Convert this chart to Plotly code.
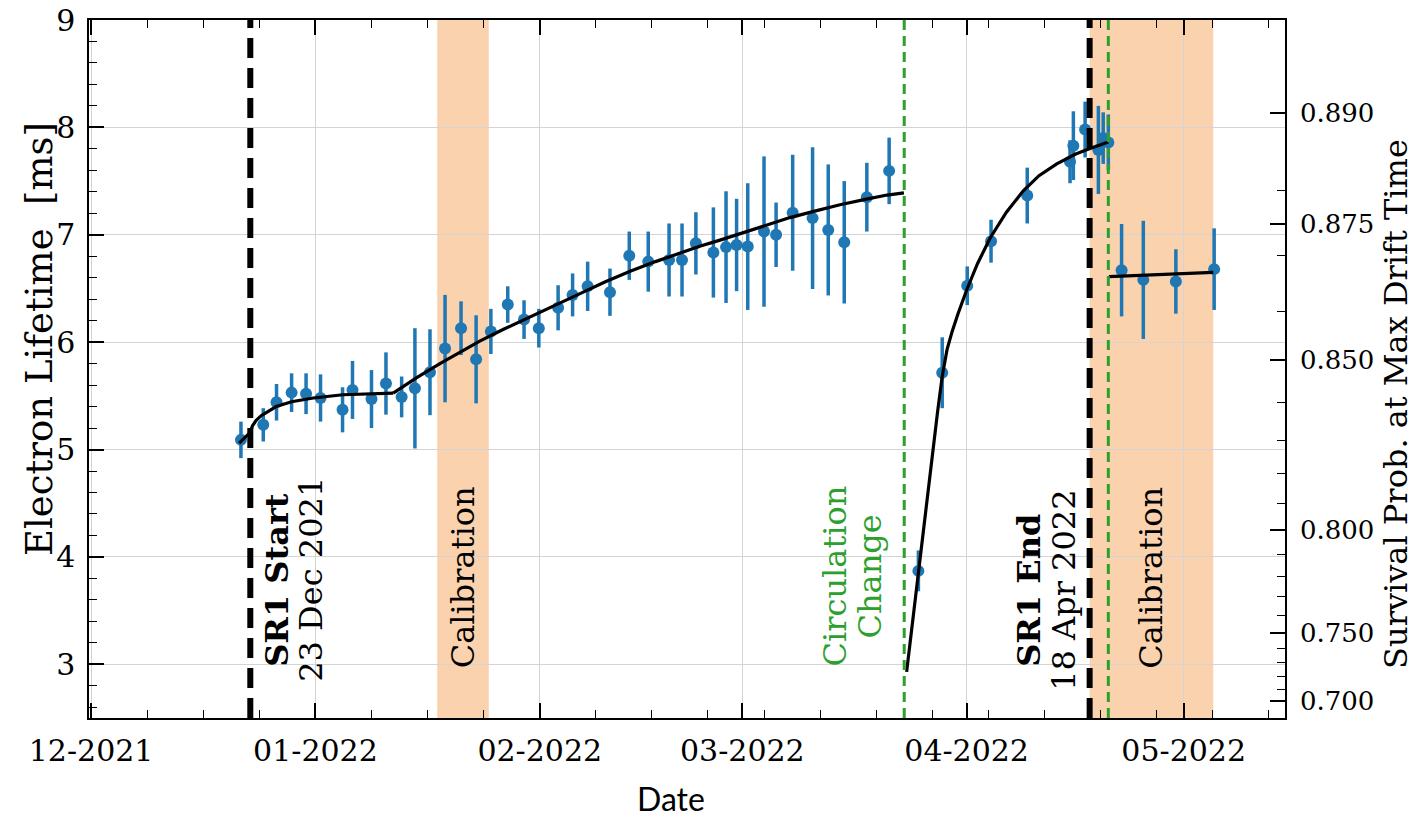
import math
import pandas as pd
import plotly.graph_objects as go

# ---------------------------------------------------------------
# Electron lifetime measurements (ms) with 1-sigma uncertainties
# ---------------------------------------------------------------
meas_time = [
    "2021-12-21 17:00", "2021-12-24 19:00", "2021-12-26 15:00", "2021-12-28 17:00",
    "2021-12-30 17:00", "2022-01-01 17:00", "2022-01-04 18:00", "2022-01-06 03:00",
    "2022-01-08 18:00", "2022-01-10 18:00", "2022-01-12 22:00", "2022-01-14 18:00",
    "2022-01-16 20:00", "2022-01-18 22:00", "2022-01-21 03:00", "2022-01-23 05:00",
    "2022-01-25 06:00", "2022-01-27 14:00", "2022-01-29 20:00", "2022-01-31 21:00",
    "2022-02-03 13:00", "2022-02-05 13:00", "2022-02-07 15:00", "2022-02-10 17:00",
    "2022-02-13 09:00", "2022-02-16 00:00", "2022-02-18 21:00", "2022-02-20 16:00",
    "2022-02-22 14:00", "2022-02-25 00:00", "2022-02-26 18:00", "2022-02-28 05:00",
    "2022-03-01 18:00", "2022-03-04 00:00", "2022-03-05 16:00", "2022-03-07 23:00",
    "2022-03-10 17:00", "2022-03-12 21:00", "2022-03-15 02:00", "2022-03-18 05:00",
    "2022-03-21 07:00",
    "2022-03-25 08:00", "2022-03-28 15:00", "2022-04-01 02:00", "2022-04-04 09:00",
    "2022-04-09 09:00", "2022-04-15 07:00", "2022-04-15 18:00", "2022-04-17 09:00",
    "2022-04-19 05:00", "2022-04-19 21:00", "2022-04-20 14:00",
    "2022-04-22 10:00", "2022-04-25 10:00", "2022-04-29 22:00", "2022-05-05 05:00",
]
lifetime_ms = [
    5.09, 5.23, 5.44, 5.53, 5.52, 5.48, 5.37, 5.555, 5.47, 5.615, 5.49, 5.57,
    5.72, 5.94, 6.13, 5.84, 6.10, 6.35, 6.21, 6.13, 6.32, 6.44, 6.52, 6.465,
    6.805, 6.75, 6.765, 6.765, 6.92, 6.835, 6.885, 6.905, 6.89, 7.03, 7.00, 7.205,
    7.155, 7.045, 6.93, 7.35, 7.595,
    3.87, 5.715, 6.525, 6.94, 7.365, 7.68, 7.83, 7.98, 7.79, 7.90, 7.86,
    6.67, 6.58, 6.565, 6.68,
]
lifetime_err = [
    0.17, 0.155, 0.17, 0.18, 0.19, 0.22, 0.21, 0.27, 0.27, 0.29, 0.19, 0.56,
    0.40, 0.50, 0.25, 0.41, 0.21, 0.17, 0.18, 0.18, 0.21, 0.20, 0.23, 0.22,
    0.225, 0.28, 0.34, 0.34, 0.29, 0.42, 0.52, 0.43, 0.59, 0.70, 0.30, 0.54,
    0.66, 0.61, 0.57, 0.32, 0.31,
    0.19, 0.33, 0.18, 0.20, 0.26, 0.20, 0.32, 0.26, 0.41, 0.24, 0.26,
    0.43, 0.55, 0.30, 0.38,
]

# ---------------------------------------------------------------
# Fitted lifetime model, one list per fit interval
# ---------------------------------------------------------------
fit_a_time = [
    "2021-12-21 11:00", "2021-12-23 00:00", "2021-12-23 07:00", "2021-12-23 19:00",
    "2021-12-24 12:00", "2021-12-25 12:00", "2021-12-26 14:00", "2021-12-28 17:00",
    "2021-12-31 17:00", "2022-01-04 19:00", "2022-01-08 12:00", "2022-01-11 18:00",
]
fit_a_ms = [5.06, 5.16, 5.22, 5.27, 5.315, 5.36, 5.40, 5.445, 5.48, 5.51, 5.52, 5.525]

fit_b_time = [
    "2022-01-11 18:00", "2022-01-15 00:00", "2022-01-18 05:00", "2022-01-21 00:00",
    "2022-01-23 17:00", "2022-01-27 00:00", "2022-01-30 14:00", "2022-02-03 00:00",
    "2022-02-06 12:00", "2022-02-10 00:00", "2022-02-13 12:00", "2022-02-17 00:00",
    "2022-02-20 10:00", "2022-02-23 00:00", "2022-02-25 22:00", "2022-02-28 17:00",
    "2022-03-04 00:00", "2022-03-07 14:00", "2022-03-11 00:00", "2022-03-14 12:00",
    "2022-03-18 00:00", "2022-03-21 00:00", "2022-03-23 08:00",
]
fit_b_ms = [
    5.525, 5.67, 5.80, 5.91, 6.01, 6.12, 6.235, 6.34, 6.45, 6.56, 6.66, 6.75,
    6.83, 6.89, 6.95, 7.01, 7.08, 7.16, 7.22, 7.28, 7.33, 7.37, 7.39,
]

fit_c_time = [
    "2022-03-23 17:00", "2022-03-25 08:00", "2022-03-27 00:00", "2022-03-28 00:00",
    "2022-03-28 15:00", "2022-03-29 07:00", "2022-03-30 00:00", "2022-03-30 20:00",
    "2022-04-01 02:00", "2022-04-02 12:00", "2022-04-04 06:00", "2022-04-06 12:00",
    "2022-04-08 20:00", "2022-04-11 00:00", "2022-04-13 11:00", "2022-04-16 00:00",
    "2022-04-17 23:00", "2022-04-20 14:00",
]
fit_c_ms = [
    2.93, 3.87, 4.82, 5.36, 5.68, 5.93, 6.10, 6.27, 6.50, 6.73, 6.97, 7.21,
    7.41, 7.55, 7.66, 7.75, 7.80, 7.865,
]

fit_d_time = ["2022-04-20 16:00", "2022-05-05 02:00"]
fit_d_ms = [6.61, 6.65]

# ---------------------------------------------------------------
# Run boundaries, circulation changes and calibration periods
# ---------------------------------------------------------------
sr1_start = "2021-12-23"
sr1_end = "2022-04-18"
circulation_changes = ["2022-03-23 09:00", "2022-04-20 14:00"]
calib_start = ["2022-01-17 20:00", "2022-04-18 00:00"]
calib_end = ["2022-01-24 23:00", "2022-05-05 02:00"]

month_ticks = ["2021-12-01", "2022-01-01", "2022-02-01", "2022-03-01", "2022-04-01", "2022-05-01"]
month_labels = ["12-2021", "01-2022", "02-2022", "03-2022", "04-2022", "05-2022"]
lifetime_ticks = [3, 4, 5, 6, 7, 8, 9]

# Right-hand axis: survival probability after the maximum drift time, exp(-t_drift / tau)
max_drift_ms = 0.948
survival_ticks = [0.700, 0.750, 0.800, 0.850, 0.875, 0.890]
survival_labels = ["0.700", "0.750", "0.800", "0.850", "0.875", "0.890"]
survival_minor = [0.71, 0.72, 0.73, 0.74, 0.76, 0.77, 0.78, 0.79, 0.81, 0.82,
                  0.83, 0.84, 0.86, 0.87, 0.88, 0.90]


def tau_for(p):
    return max_drift_ms / -math.log(p)


# minor date ticks: each month interval split in four, repeated along the axis
t0 = pd.Timestamp(month_ticks[0])
step = (pd.Timestamp(month_ticks[1]) - t0) / 4
date_minor = [(t0 + k * step).strftime("%Y-%m-%d %H:%M") for k in range(22)]

BLUE = "#1f77b4"
GREEN = "#2ca02c"
PEACH = "#fbd2ae"
SERIF = "DejaVu Serif"
TICK_FONT = dict(family=SERIF, size=30, color="black")
NOTE_SIZE = 32

fig = go.Figure()

fig.add_trace(go.Scatter(
    x=meas_time, y=lifetime_ms, mode="markers",
    marker=dict(size=12, color=BLUE),
    error_y=dict(type="data", array=lifetime_err, thickness=3.5, width=0, color=BLUE),
    showlegend=False,
))

# fit curves share the same scale; they sit on the twin axis so it is drawn
for xs, ys in [(fit_a_time, fit_a_ms), (fit_b_time, fit_b_ms),
               (fit_c_time, fit_c_ms), (fit_d_time, fit_d_ms)]:
    fig.add_trace(go.Scatter(x=xs, y=ys, mode="lines", yaxis="y2",
                             line=dict(color="black", width=3.2), showlegend=False))

# calibration periods
for a, b in zip(calib_start, calib_end):
    fig.add_shape(type="rect", xref="x", yref="paper", x0=a, x1=b, y0=0, y1=1,
                  fillcolor=PEACH, line=dict(width=0), layer="below")

# run start / end
for d in [sr1_start, sr1_end]:
    fig.add_shape(type="line", xref="x", yref="paper", x0=d, x1=d, y0=0, y1=1,
                  line=dict(color="black", width=6, dash="20px,10px"), layer="above")

# circulation changes
for d in circulation_changes:
    fig.add_shape(type="line", xref="x", yref="paper", x0=d, x1=d, y0=0, y1=1,
                  line=dict(color=GREEN, width=3, dash="10px,6px"), layer="above")


def note(x, text, xshift, y, color="black", bold=False):
    fig.add_annotation(
        x=x, y=y, xref="x", yref="y", text=f"<b>{text}</b>" if bold else text,
        textangle=-90, showarrow=False, xanchor="center", yanchor="middle",
        xshift=xshift, font=dict(family=SERIF, size=NOTE_SIZE, color=color),
    )


note(sr1_start, "SR1 Start", 27, 3.79, bold=True)
note(sr1_start, "23 Dec 2021", 61, 3.79)
note(sr1_end, "SR1 End", -60, 3.69, bold=True)
note(sr1_end, "18 Apr 2022", -25, 3.69)
note(circulation_changes[0], "Circulation", -69, 3.82, color=GREEN)
note(circulation_changes[0], "Change", -34, 3.82, color=GREEN)
for a, b in zip(calib_start, calib_end):
    mid = pd.Timestamp(a) + (pd.Timestamp(b) - pd.Timestamp(a)) / 2
    note(mid.strftime("%Y-%m-%d %H:%M"), "Calibration", 0, 3.81)

# axis titles
fig.add_annotation(text="Electron Lifetime  [ms]", xref="paper", yref="paper",
                   x=0, y=0.543, xshift=-49, textangle=-90, showarrow=False,
                   xanchor="center", yanchor="middle",
                   font=dict(family=SERIF, size=37, color="black"))
fig.add_annotation(text="Survival Prob. at Max Drift Time", xref="paper", yref="paper",
                   x=1, y=0.45, xshift=111, textangle=-90, showarrow=False,
                   xanchor="center", yanchor="middle",
                   font=dict(family=SERIF, size=32, color="black"))
fig.add_annotation(text="Date", xref="paper", yref="paper",
                   x=0.4866, y=0, yshift=-80, showarrow=False,
                   xanchor="center", yanchor="middle",
                   font=dict(family="Lato", size=32, color="black"))

axis_common = dict(
    ticks="inside", ticklen=15, tickwidth=1.5, tickcolor="black",
    showline=True, linecolor="black", linewidth=1.5,
    automargin=False, zeroline=False,
)

fig.update_layout(
    width=1416, height=817,
    margin=dict(l=89, r=131, t=20, b=99),
    paper_bgcolor="white", plot_bgcolor="white",
    showlegend=False,
    font=dict(family=SERIF, color="black"),
    xaxis=dict(
        type="date", range=["2021-11-30 17:00", "2022-05-15 00:00"],
        tickmode="array", tickvals=month_ticks, ticktext=month_labels,
        mirror="ticks", showgrid=True, gridcolor="#d4d4d4", gridwidth=1,
        ticklabelstandoff=5, tickfont=TICK_FONT,
        minor=dict(tickmode="array", tickvals=date_minor, ticks="inside",
                   ticklen=8, tickwidth=1.2, tickcolor="black", showgrid=False),
        **axis_common,
    ),
    yaxis=dict(
        range=[2.5, 9], tickmode="array", tickvals=lifetime_ticks,
        mirror=False, showgrid=True, gridcolor="#d4d4d4", gridwidth=1,
        ticklabelstandoff=6, tickfont=TICK_FONT,
        minor=dict(dtick=0.2, tick0=0, ticks="inside", ticklen=8, tickwidth=1.2,
                   tickcolor="black", showgrid=False),
        **axis_common,
    ),
    yaxis2=dict(
        overlaying="y", side="right", range=[2.5, 9],
        tickmode="array", tickvals=[tau_for(p) for p in survival_ticks],
        ticktext=survival_labels, showgrid=False, ticklabelstandoff=8,
        tickfont=dict(family=SERIF, size=26, color="black"),
        minor=dict(tickmode="array", tickvals=[tau_for(p) for p in survival_minor],
                   ticks="inside", ticklen=8, tickwidth=1.2, tickcolor="black",
                   showgrid=False),
        **axis_common,
    ),
)

fig.write_html("out.html")
